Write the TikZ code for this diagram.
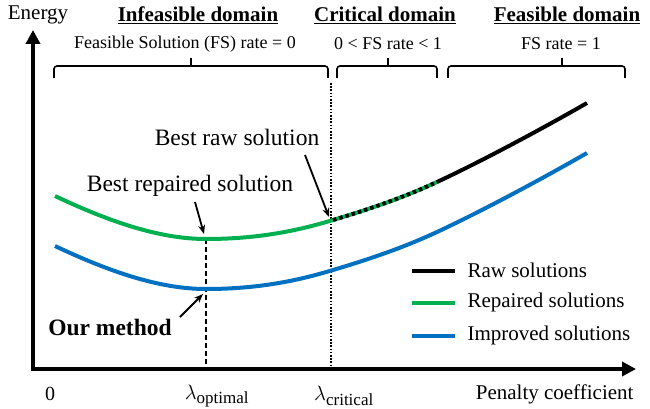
\documentclass[tikz,border=0pt]{standalone}
\usepackage{fontspec}
\setmainfont{Liberation Serif}
\usetikzlibrary{arrows.meta}

\definecolor{repgreen}{RGB}{0,176,80}
\definecolor{impblue}{RGB}{0,112,192}

% bracket spanning a domain: left end, right end, tip position
\newcommand{\fsbracket}[3]{%
  \draw[bracketline,rounded corners=3pt] (#1,78) |- (#3,66) -| (#2,78);
  \draw[bracketline] (#3,66) -- (#3,58);
}
% upright subscript word for the penalty values
\newcommand{\subword}[1]{\mbox{\fontsize{17}{19}\selectfont #1}}

\tikzset{
  axisline/.style={line width=4pt,-{Triangle[width=14pt,length=14pt]}},
  curveline/.style={line width=4pt},
  bracketline/.style={line width=1.6pt},
  pointer/.style={line width=1.8pt,-{Stealth[length=9pt,width=7pt]}},
  title/.style={font=\fontsize{21}{24}\selectfont\bfseries},
  sublabel/.style={font=\fontsize{18}{21}\selectfont},
  legendtext/.style={font=\fontsize{21}{24}\selectfont,anchor=west},
  annot/.style={font=\fontsize{23.5}{26}\selectfont},
}

\begin{document}
\begin{tikzpicture}[x=1pt,y=-1pt]
\useasboundingbox (0,0) rectangle (650,409);

% axes
\coordinate (origin) at (33,369);
\coordinate (ytop) at (33,30);
\coordinate (xend) at (636,369);
\draw[axisline] (33,371) -- (ytop);
\draw[axisline] (31,369) -- (xend);

% domain titles
\node[font=\fontsize{21}{24}\selectfont] (energy) at (38,15) {Energy};
\node[title] (tinf) at (198,15) {\underline{Infeasible domain}};
\node[title] (tcrit) at (385,15) {\underline{Critical domain}};
\node[title] (tfeas) at (567,15) {\underline{Feasible domain}};

\node[sublabel] (sinf) at (185,44) {Feasible Solution (FS) rate = 0};
\node[sublabel] (scrit) at (388,44) {0 < FS rate < 1};
\node[sublabel] (sfeas) at (561,44) {FS rate = 1};

% brackets
\fsbracket{54}{328}{191}
\fsbracket{337}{437}{388}
\fsbracket{448}{625}{562}

% key points on the curves
\coordinate (g0) at (55,196);
\coordinate (gopt) at (206,239);
\coordinate (gcrit) at (333,220);
\coordinate (gfeas) at (437,182);
\coordinate (gend) at (587,103);
\coordinate (b0) at (55,246);
\coordinate (bopt) at (206,289);
\coordinate (bend) at (587,153);

% vertical markers
\coordinate (optbase) at (206,369);
\coordinate (critbase) at (331,369);
\coordinate (crittop) at (331,83);
\draw[line width=1.5pt,dash pattern=on 5pt off 3pt] (gopt) -- (optbase);
\draw[line width=1.6pt,dash pattern=on 1.6pt off 1.6pt] (crittop) -- (critbase);

% improved solutions
\draw[curveline,impblue] (b0) .. controls (110,272) and (160,289) .. (bopt)
  .. controls (260,289) and (300,280) .. (333,270)
  .. controls (370,259) and (405,247) .. (437,232)
  .. controls (480,212) and (540,180) .. (bend);

% repaired solutions
\draw[curveline,repgreen] (g0) .. controls (110,222) and (160,239) .. (gopt)
  .. controls (260,239) and (300,230) .. (gcrit)
  .. controls (370,209) and (405,197) .. (gfeas);
% raw solutions overlapping in the critical domain
\draw[curveline,black,dash pattern=on 3.5pt off 3pt] (gcrit) .. controls (370,209) and (405,197) .. (gfeas);
\draw[curveline,black] (gfeas) .. controls (480,162) and (540,130) .. (gend);

% annotations
\node[annot] (bestraw) at (237,137) {Best raw solution};
\node[annot] (bestrep) at (190,186) {Best repaired solution};
\node[annot,font=\fontsize{23.5}{26}\selectfont\bfseries] (ours) at (110,327) {Our method};
\coordinate (rawtail) at (305,155);
\coordinate (reptail) at (195,202);
\coordinate (ourtail) at (180,317);
\draw[pointer] (rawtail) -- (329,217);
\draw[pointer] (reptail) -- (204,234);
\draw[pointer] (ourtail) -- (203,294);

% legend
\draw[curveline,black] (412,271) -- (455,271);
\draw[curveline,repgreen] (412,303) -- (455,303);
\draw[curveline,impblue] (412,336) -- (455,336);
\node[legendtext] (lraw) at (464,270) {Raw solutions};
\node[legendtext] (lrep) at (464,302) {Repaired solutions};
\node[legendtext] (limp) at (464,335) {Improved solutions};

% axis tick labels
\node[font=\fontsize{20}{24}\selectfont] (zero) at (50,394) {0};
\node[font=\fontsize{22}{24}\selectfont] (lopt) at (217,396) {$\lambda_{\subword{optimal}}$};
\node[font=\fontsize{22}{24}\selectfont] (lcrit) at (344,396) {$\lambda_{\subword{critical}}$};
\node[font=\fontsize{21}{24}\selectfont,anchor=east] (penalty) at (637,394) {Penalty coefficient};
\end{tikzpicture}
\end{document}
